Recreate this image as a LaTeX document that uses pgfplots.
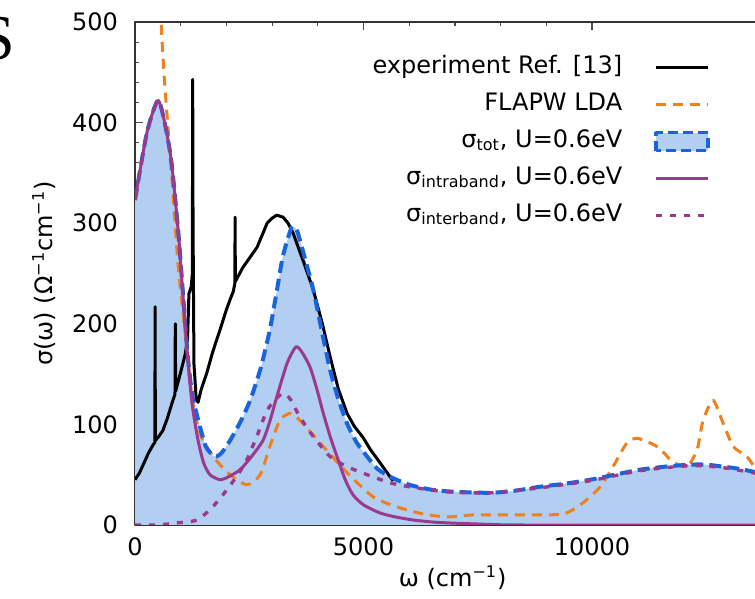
\documentclass[border=0pt]{standalone}
\usepackage{fontspec}
\setmainfont{DejaVu Sans}
\newfontfamily\serifS{Liberation Serif}
\usepackage{pgfplots}
\pgfplotsset{compat=1.18}
\definecolor{fillblue}{RGB}{178,206,240}
\definecolor{tblue}{RGB}{25,100,220}
\definecolor{lorange}{RGB}{240,128,30}
\definecolor{purp}{RGB}{155,58,140}

\begin{document}
\begin{tikzpicture}
\useasboundingbox (-67.5pt,-37pt) rectangle (310pt,262.5pt);
\node[anchor=east, inner sep=0pt, font=\fontsize{32}{32}\selectfont\serifS] at (-60pt,243pt) {S};
\begin{axis}[
  at={(0,0)}, anchor=south west,
  scale only axis, width=311.5pt, height=251.5pt,
  xmin=0, xmax=13632, ymin=0, ymax=500,
  xtick={0,5000,10000}, ytick={0,100,...,500},
  scaled x ticks=false, scaled y ticks=false,
  minor x tick num=4, minor y tick num=4,
  ytick pos=left,
  major tick length=4pt, minor tick length=2pt,
  every tick/.style={black!70, line width=0.6pt},
  axis line style={black!80, line width=1pt},
  /pgf/number format/assume math mode=true,
  /pgf/number format/set thousands separator={},
  font=\fontsize{12}{14}\selectfont,
  tick label style={font=\fontsize{12}{14}\selectfont},
  yticklabel style={xshift=-5pt},
  xticklabel style={yshift=-3pt},
  xlabel={ω (cm\textsuperscript{−1})},
  ylabel={σ(ω) (Ω\textsuperscript{−1}cm\textsuperscript{−1})},
  every axis x label/.style={at={(axis description cs:0.51,-0.105)}, anchor=center},
  every axis y label/.style={at={(axis description cs:-0.146,0.5)}, rotate=90, anchor=center},
  legend plot pos=right,
  legend cell align=right,
  legend style={draw=none, fill=none, inner sep=0pt,
    at={(axis description cs:0.923,0.935)}, anchor=north east,
    font=\fontsize{12}{14}\selectfont,
    nodes={inner sep=0pt, text height=9pt, text depth=3.5pt},
    row sep=6pt, column sep=16pt},
  legend image code/.code={\draw[#1] (0pt,0pt) -- (26pt,0pt);},
  line join=round,
]
% filled area under total
\addplot[fill=fillblue, draw=none, forget plot, smooth, tension=0.4] coordinates {
(0,323) (260,390) (500,422) (650,400) (800,360) (950,290) (1050,230) (1150,170) (1250,130) (1380,105) (1550,78) (1750,68) (1900,72) (2080,84) (2300,102) (2520,124) (2750,156) (2950,194) (3100,232) (3240,268) (3430,296) (3550,292) (3700,268) (3900,234) (4100,190) (4270,154) (4450,125) (4640,101) (4850,82) (5080,68) (5300,56) (5580,48) (6000,40) (6500,35) (7000,33) (7770,32) (8300,34) (8860,38) (9400,41) (9960,45) (10500,50) (11050,55) (11600,58) (12140,60) (12500,60) (12870,58) (13200,56) (13632,52)
} \closedcycle;

% experiment
\addplot[black, line width=1.5pt] coordinates {
(0,45) (100,52) (200,62) (300,72) (400,80) (435,82) (440,217) (445,84) (520,88) (610,94) (700,105) (830,124) (875,130) (882,200) (889,133) (1000,152) (1100,170) (1150,185) (1180,230) (1230,237) (1255,250) (1262,443) (1270,300) (1290,160) (1340,125) (1380,122) (1450,135) (1570,151) (1700,172) (1860,194) (2000,214) (2080,224) (2150,232) (2185,240) (2190,306) (2196,242) (2360,256) (2500,265) (2670,276) (2800,290) (2890,300) (3000,305) (3100,308) (3240,306) (3350,300) (3460,290) (3540,280) (3700,260) (3900,234) (4100,200) (4270,167) (4450,135) (4640,111) (4800,98) (4990,87) (5150,75) (5360,62) (5580,48) (5650,44)
};
\addlegendentry{experiment Ref. [13]}

% FLAPW LDA
\addplot[lorange, line width=1.5pt, dash pattern=on 5pt off 3.5pt, smooth, tension=0.4] coordinates {
(520,700) (545,600) (575,500) (620,460) (660,432) (810,343) (940,260) (1090,194) (1250,127) (1420,91) (1710,68) (2080,50) (2450,40) (2740,50) (2950,78) (3170,104) (3390,111) (3610,104) (4120,78) (4640,52) (5210,28) (5730,18) (6300,11) (6830,8) (7400,10) (8490,10) (9370,11) (9800,22) (10180,38) (10460,58) (10770,82) (11010,86) (11420,78) (11770,63) (12080,58) (12300,75) (12430,104) (12650,124) (12870,101) (13090,78) (13390,68) (13632,52)
};
\addlegendentry{FLAPW LDA}

% total
\addplot[tblue, line width=2pt, dash pattern=on 6pt off 3pt, smooth, tension=0.4,
  legend image code/.code={\draw[tblue, line width=1.6pt, dash pattern=on 5pt off 2.5pt, fill=fillblue] (0pt,-4.5pt) rectangle (26pt,4.5pt);}] coordinates {
(0,323) (260,390) (500,422) (650,400) (800,360) (950,290) (1050,230) (1150,170) (1250,130) (1380,105) (1550,78) (1750,68) (1900,72) (2080,84) (2300,102) (2520,124) (2750,156) (2950,194) (3100,232) (3240,268) (3430,296) (3550,292) (3700,268) (3900,234) (4100,190) (4270,154) (4450,125) (4640,101) (4850,82) (5080,68) (5300,56) (5580,48) (6000,40) (6500,35) (7000,33) (7770,32) (8300,34) (8860,38) (9400,41) (9960,45) (10500,50) (11050,55) (11600,58) (12140,60) (12500,60) (12870,58) (13200,56) (13632,52)
};
\addlegendentry{σ\textsubscript{tot}, U=0.6eV}

% intraband
\addplot[purp, line width=1.5pt, smooth, tension=0.4] coordinates {
(0,323) (260,390) (500,422) (650,400) (800,360) (950,290) (1050,228) (1150,168) (1250,120) (1380,84) (1500,62) (1640,50) (1860,45) (2050,48) (2300,55) (2550,68) (2800,84) (2950,103) (3100,127) (3330,161) (3520,177) (3650,172) (3830,157) (3980,135) (4120,111) (4270,88) (4420,68) (4600,45) (4770,30) (5000,20) (5360,12) (5700,8) (6080,5) (6500,3) (6890,2) (7500,1) (8500,0) (13632,0)
};
\addlegendentry{σ\textsubscript{intraband}, U=0.6eV}

% interband
\addplot[purp, line width=1.7pt, dash pattern=on 3pt off 4pt, smooth, tension=0.4] coordinates {
(0,0) (500,0) (900,2) (1360,5) (1700,18) (2010,35) (2250,50) (2450,65) (2700,92) (2890,114) (3100,126) (3250,131) (3400,125) (3600,108) (3900,88) (4270,68) (4640,58) (5080,50) (5580,42) (6000,38) (6830,33) (7770,32) (8860,37) (9960,44) (11050,54) (12140,59) (12870,57) (13632,51)
};
\addlegendentry{σ\textsubscript{interband}, U=0.6eV}
\end{axis}
\end{tikzpicture}
\end{document}
